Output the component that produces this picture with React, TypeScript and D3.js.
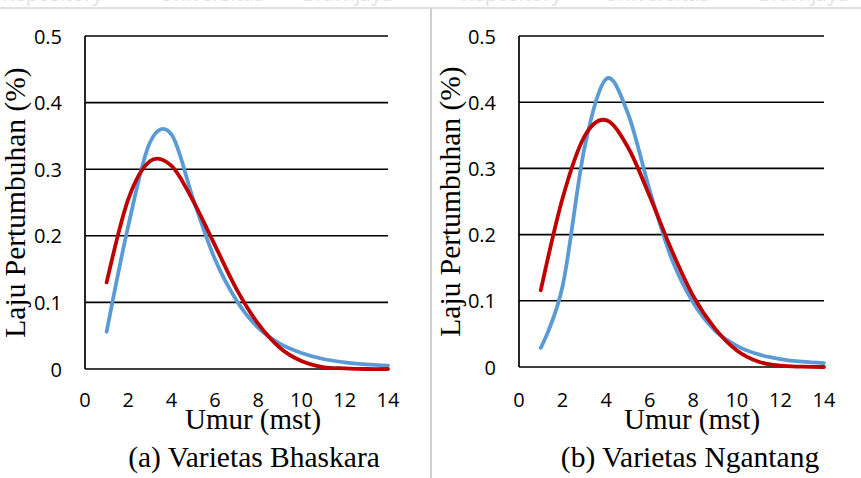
import React from "react";
import * as d3 from "d3";

const weeks = [1, 2, 3, 4, 5, 6, 7, 8, 9, 10, 11, 12, 13, 14];
const bhaskaraBlue = [0.056, 0.215, 0.34, 0.352, 0.255, 0.165, 0.103, 0.062, 0.038, 0.024, 0.015, 0.01, 0.007, 0.005];
const bhaskaraRed = [0.13, 0.255, 0.312, 0.305, 0.252, 0.186, 0.12, 0.068, 0.032, 0.012, 0.003, 0.001, 0, 0];
const ngantangBlue = [0.029, 0.122, 0.33, 0.435, 0.383, 0.267, 0.164, 0.097, 0.055, 0.032, 0.019, 0.012, 0.008, 0.006];
const ngantangRed = [0.116, 0.255, 0.348, 0.373, 0.332, 0.258, 0.177, 0.107, 0.058, 0.025, 0.008, 0.002, 0.0005, 0];
const yTicks = [0, 0.1, 0.2, 0.3, 0.4, 0.5];
const yTickLabels = ["0", "0.1", "0.2", "0.3", "0.4", "0.5"];
const xTicks = [0, 2, 4, 6, 8, 10, 12, 14];
const yTitle = "Laju Pertumbuhan (%)";
const xTitle = "Umur (mst)";
const captions = ["(a) Varietas Bhaskara", "(b) Varietas Ngantang"];
const watermarkWords = ["Repository", "Universitas", "Brawijaya"];

const BLUE = "#5B9BD5";
const RED = "#C00000";
const TICK_FONT = "'Open Sans', sans-serif";
const SERIF = "'Liberation Serif', 'Times New Roman', serif";

type PanelProps = {
  x0: number; x1: number; y0: number; y1: number;
  blue: number[]; red: number[];
  titleX: number; labelCx: number; caption: string; captionCx: number;
};

function Panel(p: PanelProps) {
  const x = d3.scaleLinear().domain([0, 14]).range([p.x0, p.x1]);
  const y = d3.scaleLinear().domain([0, 0.5]).range([p.y0, p.y1]);
  const line = d3
    .line<number>()
    .x((_, i) => x(weeks[i]))
    .y((d) => y(d))
    .curve(d3.curveCardinal.tension(0));
  const midY = (p.y0 + p.y1) / 2;
  return (
    <g>
      {yTicks.map((t, i) => (
        <g key={i}>
          <line x1={p.x0} x2={p.x1} y1={y(t)} y2={y(t)} stroke="#000" strokeWidth={1.6} />
          <text
            x={p.x0 - 23}
            y={y(t)}
            textAnchor="end"
            dominantBaseline="central"
            fontFamily={TICK_FONT}
            fontSize={20}
            fill="#000"
          >
            {yTickLabels[i]}
          </text>
        </g>
      ))}
      <line x1={p.x0} x2={p.x0} y1={y(0.5)} y2={y(0)} stroke="#000" strokeWidth={1.7} />
      {xTicks.map((t) => (
        <text
          key={t}
          x={x(t)}
          y={399}
          textAnchor="middle"
          dominantBaseline="central"
          fontFamily={TICK_FONT}
          fontSize={20}
          fill="#000"
        >
          {t}
        </text>
      ))}
      <path d={line(p.blue) || ""} fill="none" stroke={BLUE} strokeWidth={3.8} strokeLinecap="round" />
      <path d={line(p.red) || ""} fill="none" stroke={RED} strokeWidth={3.8} strokeLinecap="round" />
      <text
        transform={`translate(${p.titleX},${midY}) rotate(-90)`}
        textAnchor="middle"
        fontFamily={SERIF}
        fontSize={29.5}
        fill="#000"
      >
        {yTitle}
      </text>
      <text x={p.labelCx} y={429} textAnchor="middle" fontFamily={SERIF} fontSize={29} fill="#000">
        {xTitle}
      </text>
      <text x={p.captionCx} y={467} textAnchor="middle" fontFamily={SERIF} fontSize={29.5} fill="#000">
        {p.caption}
      </text>
    </g>
  );
}

export default function App() {
  const wmX = [2, 159, 302, 461, 604, 758];
  return (
    <svg
      width={861}
      height={478}
      style={{ position: "absolute", left: 0, top: 0, background: "#fff" }}
    >
      <defs>
        <clipPath id="wm">
          <rect x={0} y={0} width={861} height={7} />
        </clipPath>
      </defs>
      <rect x={0} y={0} width={861} height={478} fill="#fff" />
      <g clipPath="url(#wm)">
        {wmX.map((wx, i) => (
          <text key={i} x={wx} y={1} fontFamily="'Noto Sans', sans-serif" fontSize={20} fill="#e2e2e2">
            {watermarkWords[i % 3]}
          </text>
        ))}
      </g>
      <line x1={0} x2={861} y1={8} y2={8} stroke="#d6d6d6" strokeWidth={1.5} />
      <line x1={431} x2={431} y1={8} y2={478} stroke="#d0d0d0" strokeWidth={2} />
      <Panel
        x0={85} x1={388} y0={369} y1={36}
        blue={bhaskaraBlue} red={bhaskaraRed}
        titleX={25} labelCx={253} caption={captions[0]} captionCx={254}
      />
      <Panel
        x0={519} x1={824} y0={367} y1={36}
        blue={ngantangBlue} red={ngantangRed}
        titleX={460} labelCx={692} caption={captions[1]} captionCx={690}
      />
    </svg>
  );
}
